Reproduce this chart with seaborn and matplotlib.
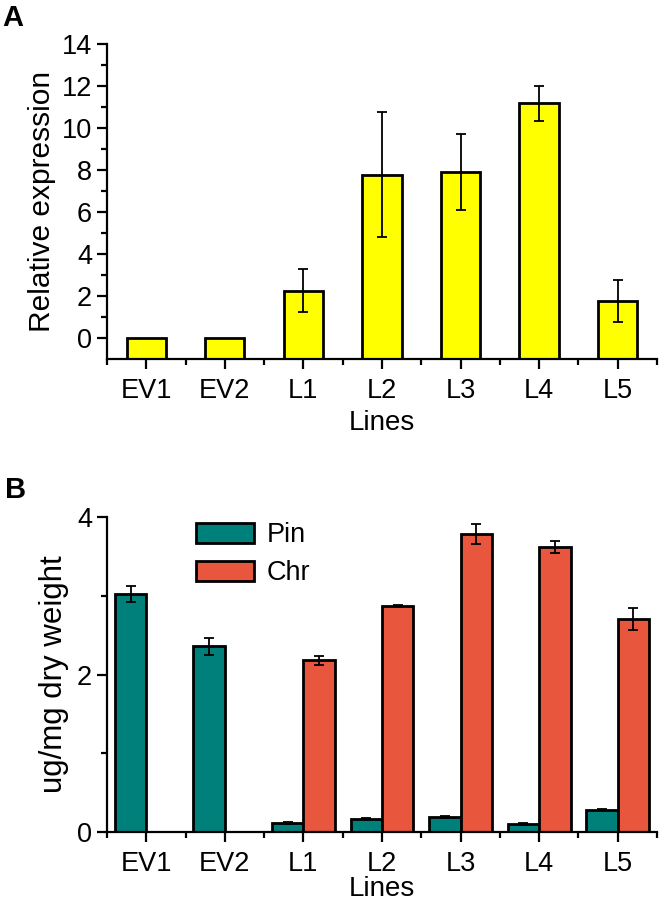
import numpy as np
import pandas as pd
import matplotlib
matplotlib.use("Agg")
import matplotlib.pyplot as plt
from matplotlib.patches import Patch
import seaborn as sns

# values
lines = ["EV1", "EV2", "L1", "L2", "L3", "L4", "L5"]
expr = [0, 0, 2.25, 7.78, 7.9, 11.17, 1.77]
expr_err = [0, 0, 1.02, 2.98, 1.8, 0.84, 0.99]
pin = [3.02, 2.36, 0.11, 0.16, 0.19, 0.10, 0.28]
pin_err = [0.10, 0.11, 0.01, 0.01, 0.01, 0.01, 0.01]
chr_vals = [0, 0, 2.18, 2.87, 3.79, 3.62, 2.71]
chr_err = [0, 0, 0.06, 0.01, 0.13, 0.075, 0.14]
compounds = ["Pin", "Chr"]
colors = ["#00807A", "#E8563D"]

sns.set_theme(style="ticks")
plt.rcParams["font.family"] = ["Liberation Sans", "DejaVu Sans"]
plt.rcParams.update({
    "text.color": "black",
    "axes.labelcolor": "black",
    "axes.linewidth": 1.6,
    "axes.edgecolor": "black",
    "xtick.major.width": 1.6, "ytick.major.width": 1.6,
    "xtick.minor.width": 1.6, "ytick.minor.width": 1.6,
    "xtick.major.size": 7.5, "ytick.major.size": 7.2,
    "xtick.minor.size": 4.3, "ytick.minor.size": 4.3,
    "xtick.color": "black", "ytick.color": "black",
    "xtick.labelsize": 19.5, "ytick.labelsize": 19.5,
})

fig = plt.figure(figsize=(6.6, 9), dpi=100)
axA = fig.add_axes([0.1621, 0.6011, 0.8333, 0.35])
axB = fig.add_axes([0.1621, 0.0759, 0.8333, 0.3493])

# --- panel A
dfA = pd.DataFrame({"line": lines, "expr": expr, "err": expr_err})
sns.barplot(data=dfA, x="line", y="expr", color="#FFFF00", width=0.5,
            edgecolor="black", linewidth=2.0, saturation=1, errorbar=None, ax=axA)
# bars rise from the bottom of the axis (-1) as in the original
for p, v in zip(axA.patches, expr):
    p.set_y(-1)
    p.set_height(v + 1)
m = dfA["err"] > 0
axA.errorbar(np.arange(len(lines))[m], dfA["expr"][m], yerr=dfA["err"][m],
             fmt="none", ecolor="black", elinewidth=1.3, capsize=3.3, capthick=1.3)
axA.set_ylim(-1, 14)
axA.set_yticks(np.arange(0, 15, 2))
axA.set_yticks(np.arange(1, 14, 2), minor=True)
axA.set_xticks(np.arange(-0.5, 7, 1), minor=True)
axA.set_ylabel("Relative expression", fontsize=21.5, labelpad=4)
axA.set_xlabel("Lines", fontsize=20, labelpad=4)

# --- panel B
dfB = pd.DataFrame({
    "line": lines * 2,
    "compound": ["Pin"] * 7 + ["Chr"] * 7,
    "value": pin + chr_vals,
    "err": pin_err + chr_err,
})
sns.barplot(data=dfB, x="line", y="value", hue="compound", hue_order=compounds,
            palette=colors, width=0.8, edgecolor="black", linewidth=2.0,
            saturation=1, errorbar=None, legend=False, ax=axB)
for cont, comp in zip(axB.containers, compounds):
    sub = dfB[dfB["compound"] == comp]
    xs = np.array([b.get_x() + b.get_width() / 2 for b in cont])
    mm = (sub["err"] > 0).to_numpy()
    axB.errorbar(xs[mm], sub["value"].to_numpy()[mm], yerr=sub["err"].to_numpy()[mm],
                 fmt="none", ecolor="black", elinewidth=1.3, capsize=3.3, capthick=1.3)
axB.set_ylim(0, 4)
axB.set_yticks([0, 2, 4])
axB.set_yticks([1, 3], minor=True)
axB.set_xticks(np.arange(-0.5, 7, 1), minor=True)
axB.set_ylabel("ug/mg dry weight", fontsize=22.5, labelpad=6)
axB.set_xlabel("Lines", fontsize=20, labelpad=-1)
handles = [Patch(facecolor=c, edgecolor="black", linewidth=2.0) for c in colors]
axB.legend(handles, compounds, loc="upper left", bbox_to_anchor=(0.162, 0.985),
           frameon=False, fontsize=19.5, handlelength=2.15, handleheight=0.75,
           handletextpad=0.45, labelspacing=0.45, borderpad=0, borderaxespad=0)

for ax in (axA, axB):
    sns.despine(ax=ax)
    ax.tick_params(axis="y", which="major", pad=3.5)
    ax.tick_params(axis="x", which="major", pad=6.4)
    ax.set_xlim(-0.5, 6.5)

fig.text(0.004, 0.971, "A", fontsize=21, fontweight="bold", va="baseline")
fig.text(0.007, 0.447, "B", fontsize=21, fontweight="bold", va="baseline")

fig.savefig("out.png", dpi=100)
